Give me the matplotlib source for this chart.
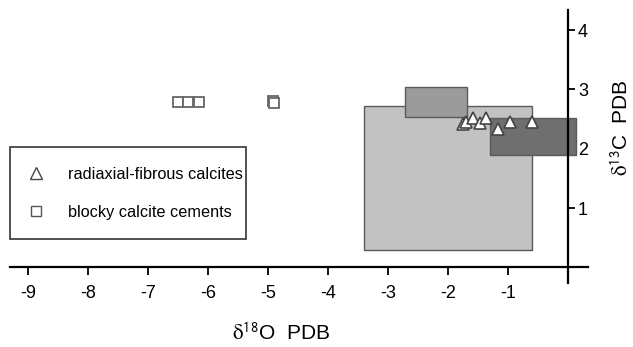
import numpy as np
import matplotlib.pyplot as plt
from matplotlib.patches import Rectangle
from matplotlib.lines import Line2D

plt.rcParams['font.family'] = ['Liberation Sans', 'DejaVu Sans']
plt.rcParams['mathtext.fontset'] = 'stix'
plt.rcParams['axes.unicode_minus'] = False

# isotope data (d18O, d13C, PDB)
tri_x = [-1.75, -1.70, -1.59, -1.48, -1.38, -1.17, -0.98, -0.60]
tri_y = [2.42, 2.45, 2.51, 2.44, 2.51, 2.34, 2.45, 2.45]
sq_x = [-6.50, -6.34, -6.16, -4.93, -4.90]
sq_y = [2.78, 2.78, 2.78, 2.80, 2.77]

# fields: (x0, x1, y0, y1, face colour)
fields = [
    (-3.40, -0.60, 0.30, 2.72, '#c2c2c2'),
    (-2.72, -1.69, 2.53, 3.04, '#9b9b9b'),
    (-1.30, 0.12, 1.90, 2.51, '#6f6f6f'),
]

xticks = [-9, -8, -7, -6, -5, -4, -3, -2, -1]
yticks = [1, 2, 3, 4]

fig = plt.figure(figsize=(6.33, 3.47), dpi=100)
ax = fig.add_axes([0, 0, 1, 1])
ax.set_xlim(-9.472, 1.078)
ax.set_ylim(-1.344, 4.508)

for i, (x0, x1, y0, y1, c) in enumerate(fields):
    ax.add_patch(Rectangle((x0, y0), x1 - x0, y1 - y0, facecolor=c,
                           edgecolor='#5a5a5a', lw=1.0, zorder=2 + i))

ax.plot(tri_x, tri_y, ls='none', marker='^', ms=9, mfc='white',
        mec='#444444', mew=1.2, zorder=6)
ax.plot(sq_x, sq_y, ls='none', marker='s', ms=7, mfc='white',
        mec='#666666', mew=1.3, zorder=6)

# axes crossing at the origin
for s in ['top', 'left']:
    ax.spines[s].set_visible(False)
ax.spines['bottom'].set_position(('data', 0))
ax.spines['bottom'].set_bounds(-9.31, 0.33)
ax.spines['right'].set_position(('data', 0))
ax.spines['right'].set_bounds(-0.27, 4.34)
for s in ['bottom', 'right']:
    ax.spines[s].set_linewidth(1.6)
    ax.spines[s].set_zorder(7)
ax.yaxis.tick_right()
ax.set_xticks(xticks)
ax.set_yticks(yticks)
ax.tick_params(axis='x', direction='out', length=6, width=1.3, pad=7, labelsize=13)
ax.tick_params(axis='y', direction='out', length=5, width=1.3, pad=2, labelsize=13)

ax.text(0.444, 0.04, r'$\mathrm{\delta}^{\mathsf{18}}$O  PDB', transform=ax.transAxes,
        ha='center', va='center', fontsize=15)
ax.text(0.981, 0.632, r'$\mathrm{\delta}^{\mathsf{13}}$C  PDB', transform=ax.transAxes,
        ha='center', va='center', fontsize=15, rotation=90)

handles = [
    Line2D([], [], ls='none', marker='^', ms=8, mfc='white', mec='#444444', mew=1.0),
    Line2D([], [], ls='none', marker='s', ms=7, mfc='white', mec='#555555', mew=1.0),
]
leg = ax.legend(handles, ['radiaxial-fibrous calcites', 'blocky calcite cements'],
                loc='upper left', bbox_to_anchor=(0.0158, 0.311, 0.373, 0.265),
                mode='expand', fontsize=11.7, frameon=True, fancybox=False,
                edgecolor='#333333', framealpha=1, borderpad=1.2, labelspacing=1.42,
                handlelength=0.8, handletextpad=1.57, borderaxespad=0)
leg.get_frame().set_linewidth(1.2)

fig.savefig('out.png', dpi=100)
